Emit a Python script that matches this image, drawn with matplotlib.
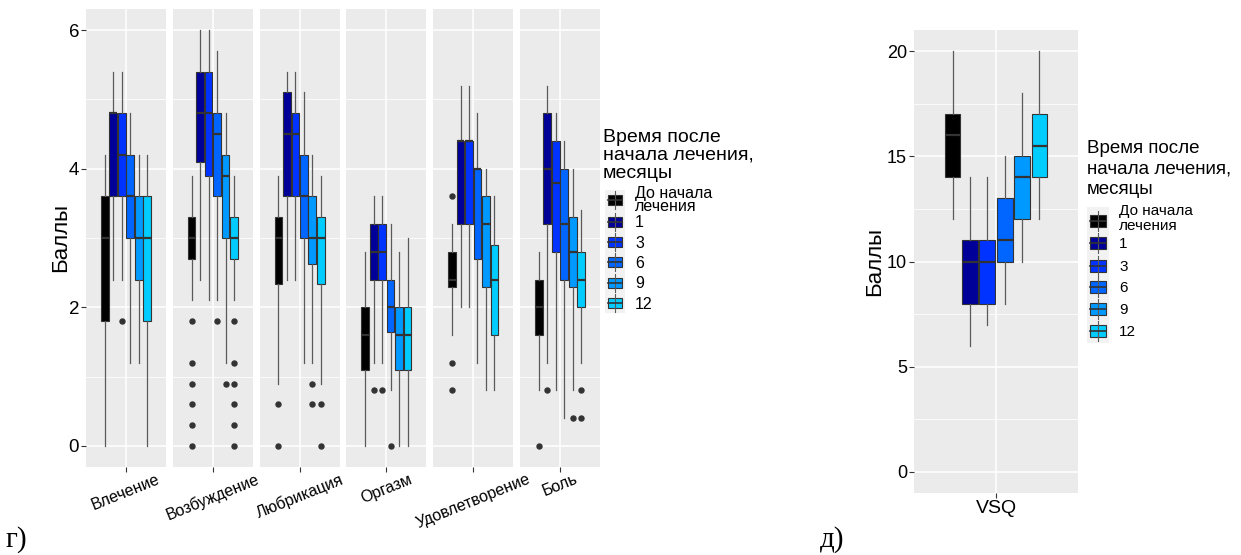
import matplotlib
matplotlib.use("Agg")
import matplotlib.pyplot as plt
from matplotlib.patches import Rectangle

plt.rcParams['font.family'] = ['Liberation Sans', 'DejaVu Sans']

W, H = 1241, 555

time_labels = ["До начала\nлечения", "1", "3", "6", "9", "12"]
fill_colors = ["#000000", "#000099", "#0033FF", "#0066FF", "#0099FF", "#00CCFF"]
legend_title = ["Время после", "начала лечения,", "месяцы"]

domains = ["Влечение", "Возбуждение", "Любрикация", "Оргазм", "Удовлетворение", "Боль"]

# FSFI domain scores: one row per domain, one column per time point
fsfi_whislo = [
    [0.0, 2.4, 2.4, 1.2, 1.2, 0.0],
    [2.1, 2.4, 2.1, 2.1, 1.2, 2.1],
    [0.9, 2.4, 2.4, 1.2, 1.2, 0.9],
    [0.0, 1.2, 1.2, 0.8, 0.0, 0.0],
    [1.6, 2.0, 2.0, 1.2, 0.8, 0.8],
    [0.8, 1.2, 0.8, 0.4, 0.8, 1.2],
]
fsfi_q1 = [
    [1.8, 3.6, 3.6, 3.0, 2.4, 1.8],
    [2.7, 4.1, 3.9, 3.6, 3.0, 2.7],
    [2.33, 3.6, 3.6, 3.0, 2.63, 2.33],
    [1.1, 2.4, 2.4, 1.65, 1.1, 1.1],
    [2.3, 3.2, 3.2, 2.7, 2.3, 1.6],
    [1.6, 3.2, 2.8, 2.4, 2.3, 2.0],
]
fsfi_med = [
    [3.0, 4.8, 4.2, 3.6, 3.0, 3.0],
    [3.0, 4.8, 4.8, 4.5, 3.9, 3.0],
    [3.0, 4.5, 4.5, 3.6, 3.0, 3.0],
    [1.6, 2.8, 2.8, 2.0, 1.6, 1.6],
    [2.4, 4.4, 4.4, 4.0, 3.2, 2.4],
    [2.0, 4.0, 3.8, 3.2, 2.8, 2.4],
]
fsfi_q3 = [
    [3.6, 4.8, 4.8, 4.2, 3.6, 3.6],
    [3.3, 5.4, 5.4, 4.8, 4.2, 3.3],
    [3.3, 5.1, 4.8, 4.2, 3.6, 3.3],
    [2.0, 3.2, 3.2, 2.4, 2.0, 2.0],
    [2.8, 4.4, 4.4, 4.0, 3.6, 2.9],
    [2.4, 4.8, 4.4, 4.0, 3.3, 2.8],
]
fsfi_whishi = [
    [4.2, 5.4, 5.4, 4.8, 4.2, 4.2],
    [3.9, 6.0, 6.0, 5.7, 4.8, 3.9],
    [3.9, 5.4, 5.4, 5.1, 4.2, 3.9],
    [2.8, 3.6, 3.6, 3.2, 2.8, 3.0],
    [3.2, 5.2, 5.2, 4.8, 4.0, 3.6],
    [2.8, 5.2, 4.8, 4.4, 4.0, 3.4],
]
fsfi_fliers = [
    [[], [], [1.8], [], [], []],
    [[1.8, 1.2, 0.9, 0.6, 0.3, 0.0], [], [], [1.8], [0.9], [1.8, 1.2, 0.9, 0.6, 0.3, 0.0]],
    [[0.6, 0.0], [], [], [], [0.9, 0.6], [0.6, 0.0]],
    [[], [0.8], [0.8], [0.0], [], []],
    [[3.6, 1.2, 0.8], [], [], [], [], []],
    [[0.0], [0.8], [], [], [0.4], [0.8, 0.4]],
]

# VSQ total score per time point
vsq_whislo = [12, 6, 7, 8, 10, 12]
vsq_q1 = [14, 8, 8, 10, 12, 14]
vsq_med = [16, 10, 10, 11, 14, 15.5]
vsq_q3 = [17, 11, 11, 13, 15, 17]
vsq_whishi = [20, 14, 14, 15, 18, 20]
vsq_fliers = [[], [], [], [], [], []]

SLOT = 0.127
BOX_W = 0.115
EDGE = "#333333"


def fig_rect(x0, y0, x1, y1):
    return [x0 / W, 1 - y1 / H, (x1 - x0) / W, (y1 - y0) / H]


def draw_boxes(ax, lo, q1, med, q3, hi, fliers):
    stats = [dict(whislo=lo[i], q1=q1[i], med=med[i], q3=q3[i], whishi=hi[i],
                  fliers=fliers[i]) for i in range(len(lo))]
    pos = [1 + (i - 2.5) * SLOT for i in range(len(lo))]
    bp = ax.bxp(stats, positions=pos, widths=BOX_W, patch_artist=True,
                showcaps=False, manage_ticks=False,
                boxprops=dict(edgecolor=EDGE, linewidth=0.8),
                whiskerprops=dict(color="#5a5a5a", linewidth=0.9),
                medianprops=dict(color=EDGE, linewidth=1.6),
                flierprops=dict(marker='o', markerfacecolor=EDGE,
                                markeredgecolor=EDGE, markersize=3.6,
                                linestyle='none'),
                zorder=3)
    for patch, c in zip(bp['boxes'], fill_colors):
        patch.set_facecolor(c)


def style_panel(ax, ylim, major, minor, tick_size):
    ax.set_facecolor('#EBEBEB')
    ax.set_xlim(0.4, 1.6)
    ax.set_ylim(*ylim)
    ax.set_yticks(major)
    ax.set_yticks(minor, minor=True)
    ax.set_xticks([1])
    ax.grid(True, which='major', color='white', linewidth=1.1)
    ax.grid(True, which='minor', axis='y', color='white', linewidth=0.55)
    ax.set_axisbelow(True)
    for s in ax.spines.values():
        s.set_visible(False)
    ax.tick_params(which='minor', length=0)
    ax.tick_params(which='major', length=3.5, width=0.8, color=EDGE,
                   pad=1.5, labelsize=tick_size, labelcolor='black')


fig = plt.figure(figsize=(W / 100, H / 100), dpi=100)

# faceted FSFI panels
for k, name in enumerate(domains):
    x0 = 86 + k * 86.8
    ax = fig.add_axes(fig_rect(x0, 9.3, x0 + 80, 466.7))
    style_panel(ax, (-0.3, 6.3), [0, 2, 4, 6], [1, 3, 5], 13.5)
    draw_boxes(ax, fsfi_whislo[k], fsfi_q1[k], fsfi_med[k], fsfi_q3[k],
               fsfi_whishi[k], fsfi_fliers[k])
    ax.set_xticklabels([name], rotation=22, ha='center', va='top', fontsize=11.5)
    ax.tick_params(axis='x', pad=0)
    if k > 0:
        ax.tick_params(axis='y', left=False, labelleft=False)

# VSQ panel
axv = fig.add_axes(fig_rect(914, 30, 1078, 493))
style_panel(axv, (-1.0, 21.0), [0, 5, 10, 15, 20], [2.5, 7.5, 12.5, 17.5], 13)
draw_boxes(axv, vsq_whislo, vsq_q1, vsq_med, vsq_q3, vsq_whishi, vsq_fliers)
axv.set_xticklabels(["VSQ"], fontsize=14)

# overlay in pixel coordinates for labels and legends
ov = fig.add_axes([0, 0, 1, 1], zorder=5)
ov.set_xlim(0, W)
ov.set_ylim(H, 0)
ov.axis('off')

ov.text(61, 238, "Баллы", rotation=90, ha='center', va='center', fontsize=16)
ov.text(875, 262, "Баллы", rotation=90, ha='center', va='center', fontsize=16)

ov.text(6, 547, "г)", family=['Liberation Serif', 'DejaVu Serif'], fontsize=21,
        ha='left', va='baseline')
ov.text(820, 547, "д)", family=['Liberation Serif', 'DejaVu Serif'], fontsize=21,
        ha='left', va='baseline')


def draw_legend(x_title, title_baselines, title_size, kx0, kx1, centers,
                key_h, box_h, bg_top, bg_bot, label_x, label_size, first_baselines):
    for line, yb in zip(legend_title, title_baselines):
        ov.text(x_title, yb, line, fontsize=title_size, ha='left', va='baseline')
    ov.add_patch(Rectangle((kx0, bg_top), kx1 - kx0, bg_bot - bg_top,
                           facecolor='#F2F2F2', edgecolor='none'))
    xm = (kx0 + kx1) / 2
    cap = 0.716 * label_size * 100 / 72
    for i, (c, yc) in enumerate(zip(fill_colors, centers)):
        ov.plot([xm, xm], [yc - key_h / 2 + 1, yc + key_h / 2 - 1],
                color='#5a5a5a', lw=0.8)
        ov.add_patch(Rectangle((kx0 + 3, yc - box_h / 2), kx1 - kx0 - 6, box_h,
                               facecolor=c, edgecolor=EDGE, lw=0.8))
        ov.plot([kx0 + 3, kx1 - 3], [yc, yc], color=EDGE, lw=1.2)
        if i == 0:
            for line, yb in zip(time_labels[0].split("\n"), first_baselines):
                ov.text(label_x, yb, line, fontsize=label_size, ha='left',
                        va='baseline')
        else:
            ov.text(label_x, yc + cap / 2, time_labels[i], fontsize=label_size,
                    ha='left', va='baseline')


draw_legend(603, [142, 160, 178], 14, 605, 625,
            [200, 221.7, 242, 262.3, 282.7, 303], 20, 10, 190, 313,
            635, 11.5, [198, 211])
draw_legend(1087, [153, 173, 194], 13.5, 1087, 1109,
            [221, 243, 265.5, 287, 309, 330.5], 22, 12, 207, 343,
            1119, 11, [215, 230])

fig.savefig("out.png", dpi=100)
